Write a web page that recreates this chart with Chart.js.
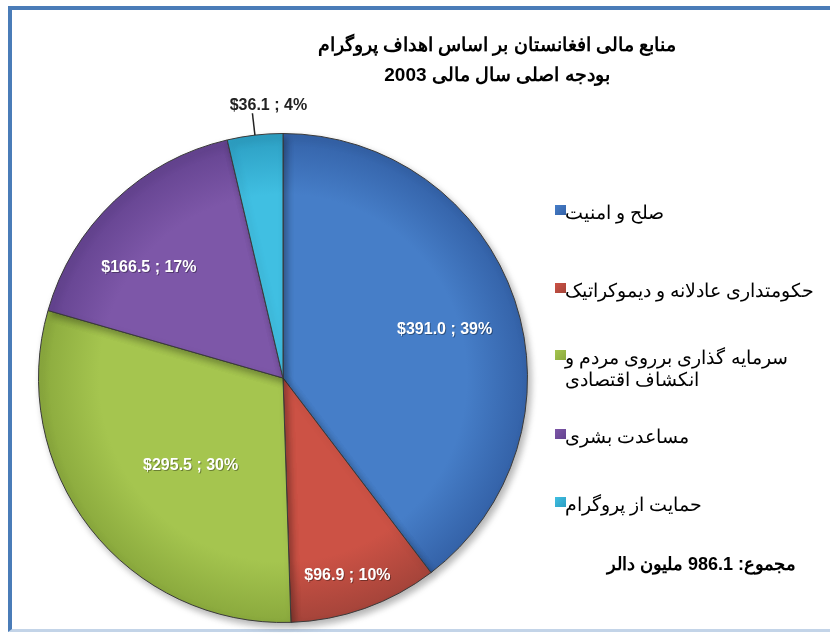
<!DOCTYPE html>
<html>
<head>
<meta charset="utf-8">
<script src="https://cdn.jsdelivr.net/npm/chart.js@4.4.0/dist/chart.umd.min.js"></script>
<style>
    body { margin: 0; width: 830px; height: 633px; overflow: hidden; background: #fff; font-family: "Liberation Sans", Arial, sans-serif; }
    #frame { position: absolute; left: 8px; top: 6px; width: 830px; height: 619px; border-top: 4px solid #4a7cb8; border-left: 4px solid #4a7cb8; border-bottom: 3px solid #c3d4e8; }
    #chart { position: absolute; left: 0; top: 0; }
    .title { position: absolute; left: 297px; width: 400px; text-align: center; font-weight: bold; font-size: 19px; direction: rtl; color: #000; }
    .legend-item { position: absolute; left: 555px; font-size: 18.5px; color: #000; }
    .legend-box { position: absolute; left: 0; top: -8px; width: 11px; height: 10px; }
    .legend-text { position: absolute; left: 10px; top: -11px; direction: rtl; text-align: left; white-space: pre-line; line-height: 22px; }
    #total { position: absolute; left: 560px; width: 236px; top: 553px; text-align: right; direction: rtl; font-weight: bold; font-size: 18px; }
</style>
</head>
<body>
<div id="frame"></div>
<canvas id="chart" width="830" height="633"></canvas>
<div class="title" style="top:33px">منابع مالی افغانستان بر اساس اهداف پروگرام</div>
<div class="title" style="top:63px">بودجه اصلی سال مالی 2003</div>
<div id="legend"></div>
<div id="total">مجموع: 986.1 ملیون دالر</div>
<script>
// Data (million dollars)
const categories = [
    'صلح و امنیت',
    'حکومتداری عادلانه و دیموکراتیک',
    'سرمایه گذاری برروی مردم و\nانکشاف اقتصادی',
    'مساعدت بشری',
    'حمایت از پروگرام'
];
const amounts = [391.0, 96.9, 295.5, 166.5, 36.1];
const percents = [39, 10, 30, 17, 4];

// Slice colours (light centre, darker rim)
const lightColors = ['#467ec8', '#cc5245', '#a5c54f', '#7d57a8', '#40bfe2'];
const darkColors = ['#3462a8', '#a5443a', '#8aa93d', '#644390', '#2c9ec2'];

// Label placement: part of the radius (null = outside with a line) and angle nudge in degrees
const labelRadius = [0.69, 0.85, 0.52, 0.71, null];
const labelShift = [2, 1.5, -5.5, -7, 0];
const legendTops = [213, 291, 358, 437, 505];

// Build the legend
const legend = document.getElementById('legend');
categories.forEach((name, i) => {
    const item = document.createElement('div');
    item.className = 'legend-item';
    item.style.top = legendTops[i] + 'px';
    item.innerHTML = `
        <span class="legend-box" style="background:linear-gradient(135deg, ${lightColors[i]}, ${darkColors[i]})"></span>
        <span class="legend-text" style="width:${i === 2 ? 250 : 270}px">${name}</span>
    `;
    legend.appendChild(item);
});

function sliceGradient(context) {
    const chart = context.chart;
    const i = context.dataIndex;
    const area = chart.chartArea;
    if (!area) return lightColors[i];
    const cx = (area.left + area.right) / 2;
    const cy = (area.top + area.bottom) / 2;
    const r = Math.min(area.right - area.left, area.bottom - area.top) / 2;
    const g = chart.ctx.createRadialGradient(cx, cy, 0, cx, cy, r);
    g.addColorStop(0, lightColors[i]);
    g.addColorStop(0.75, lightColors[i]);
    g.addColorStop(1, darkColors[i]);
    return g;
}

// Shadow under the pie and value labels on the slices
const pieExtras = {
    id: 'pieExtras',
    beforeDatasetsDraw(chart) {
        const ctx = chart.ctx;
        ctx.save();
        ctx.shadowColor = 'rgba(0, 0, 0, 0.3)';
        ctx.shadowBlur = 7;
        ctx.shadowOffsetX = 3;
        ctx.shadowOffsetY = 4;
    },
    afterDatasetsDraw(chart) {
        const ctx = chart.ctx;
        ctx.restore();
        ctx.save();
        ctx.direction = 'ltr';
        ctx.font = 'bold 16px "Liberation Sans", Arial, sans-serif';
        ctx.textAlign = 'center';
        ctx.textBaseline = 'middle';
        const arcs = chart.getDatasetMeta(0).data;
        arcs.forEach((arc, i) => {
            const text = '$' + amounts[i].toFixed(1) + ' ; ' + percents[i] + '%';
            const mid = (arc.startAngle + arc.endAngle) / 2;
            if (labelRadius[i] !== null) {
                const a = mid + labelShift[i] * Math.PI / 180;
                const d = arc.outerRadius * labelRadius[i];
                const x = arc.x + Math.cos(a) * d;
                const y = arc.y + Math.sin(a) * d;
                ctx.fillStyle = 'rgba(0,0,0,0.35)';
                ctx.fillText(text, x + 1, y + 1);
                ctx.fillStyle = '#ffffff';
                ctx.fillText(text, x, y);
            } else {
                const cos = Math.cos(mid), sin = Math.sin(mid);
                const x0 = arc.x + cos * arc.outerRadius;
                const y0 = arc.y + sin * arc.outerRadius;
                const x1 = arc.x + cos * (arc.outerRadius + 22);
                const y1 = arc.y + sin * (arc.outerRadius + 22);
                ctx.strokeStyle = '#222';
                ctx.lineWidth = 1.5;
                ctx.beginPath();
                ctx.moveTo(x0, y0);
                ctx.lineTo(x1, y1);
                ctx.stroke();
                ctx.fillStyle = '#222';
                ctx.fillText(text, x1 + 16, y1 - 8);
            }
        });
        ctx.restore();
    }
};

const ctx = document.getElementById('chart').getContext('2d');
new Chart(ctx, {
    type: 'pie',
    data: {
        labels: categories,
        datasets: [{
            data: amounts,
            backgroundColor: sliceGradient,
            borderColor: '#3a3a3a',
            borderWidth: 1
        }]
    },
    options: {
        responsive: false,
        animation: false,
        layout: {
            padding: { left: 38, right: 302, top: 133, bottom: 10 }
        },
        plugins: {
            legend: { display: false },
            tooltip: { enabled: false }
        }
    },
    plugins: [pieExtras]
});
</script>
</body>
</html>
